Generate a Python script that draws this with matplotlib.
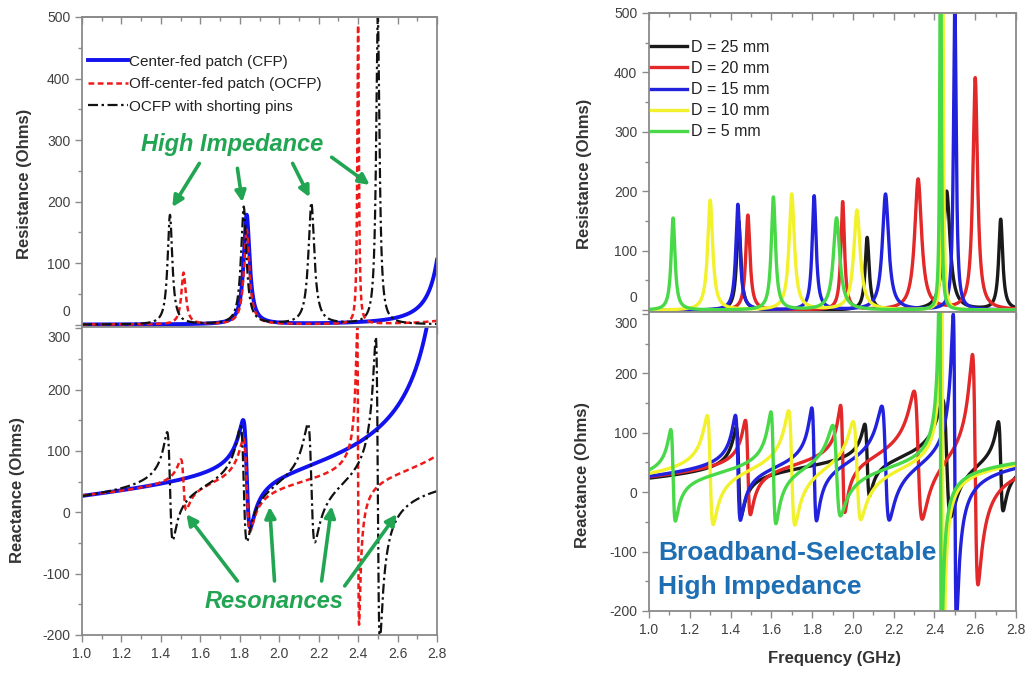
import numpy as np
import matplotlib
matplotlib.use("Agg")
import matplotlib.pyplot as plt
from matplotlib.ticker import MultipleLocator
from matplotlib.transforms import ScaledTranslation

plt.rcParams['font.family'] = ['Liberation Sans', 'DejaVu Sans']
plt.rcParams['axes.unicode_minus'] = False

# ---------------- data ----------------
# Each series: resonance frequencies (GHz), peak resistances (Ohm), quality factors,
# plus background reactance at 1.0 GHz and its slope (Ohm/GHz).
# Left figure: patch antennas
cfp_f0 = [1.835, 2.90]
cfp_R = [178, 1400]
cfp_Q = [50, 50]
cfp_x0, cfp_xs = 13, 24

ocfp_f0 = [1.515, 1.835, 2.40, 3.10]
ocfp_R = [84, 154, 486, 400]
ocfp_Q = [55, 55, 250, 40]
ocfp_x0, ocfp_xs = 19, 20

pins_f0 = [1.446, 1.82, 2.163, 2.50]
pins_R = [178, 191, 197, 498]
pins_Q = [50, 55, 60, 120]
pins_x0, pins_xs = 15, 28

left_labels = ["Center-fed patch (CFP)", "Off-center-fed patch (OCFP)",
               "OCFP with shorting pins"]

# Right figure: shorting-pin distance D
d25_f0 = [1.44, 2.07, 2.46, 2.725]
d25_R = [150, 122, 200, 152]
d25_Q = [58, 88, 62, 116]

d20_f0 = [1.485, 1.95, 2.32, 2.60]
d20_R = [160, 182, 220, 390]
d20_Q = [60, 92, 57, 95]

d15_f0 = [1.436, 1.81, 2.16, 2.50]
d15_R = [178, 192, 195, 520]
d15_Q = [58, 77, 58, 160]

d10_f0 = [1.30, 1.70, 2.02, 2.44]
d10_R = [185, 195, 168, 700]
d10_Q = [44, 54, 53, 280]

d5_f0 = [1.118, 1.61, 1.92, 2.43]
d5_R = [155, 190, 155, 700]
d5_Q = [49, 65, 50, 280]

right_x0 = [17, 17, 17, 17, 17]
right_xs = [27, 27, 27, 27, 27]
right_labels = ["D = 25 mm", "D = 20 mm", "D = 15 mm", "D = 10 mm", "D = 5 mm"]

freq = np.linspace(1.0, 2.8, 4000)


def impedance(f, f0s, Rs, Qs, x0, xs):
    z = 1j * (x0 + xs * (f - 1.0))
    for f0, R, Q in zip(f0s, Rs, Qs):
        z = z + R / (1 + 1j * Q * (f / f0 - f0 / f))
    return z.real, z.imag


# ---------------- figure ----------------
W, H = 1029, 674
fig = plt.figure(figsize=(W / 100, H / 100), dpi=100)


def px_axes(x0, x1, y0, y1):
    return fig.add_axes([x0 / W, 1 - y1 / H, (x1 - x0) / W, (y1 - y0) / H])


axL1 = px_axes(82, 437, 17, 327)
axL2 = px_axes(82, 437, 327, 635)
axR1 = px_axes(649, 1016, 13, 312)
axR2 = px_axes(649, 1016, 312, 611)

spine_col = '#8a8a8a'
for ax in (axL1, axL2, axR1, axR2):
    ax.set_xlim(1.0, 2.8)
    ax.xaxis.set_major_locator(MultipleLocator(0.2))
    ax.xaxis.set_minor_locator(MultipleLocator(0.1))
    ax.yaxis.set_minor_locator(MultipleLocator(50))
    for s in ax.spines.values():
        s.set_color(spine_col)
        s.set_linewidth(1.3)
    ax.tick_params(which='both', color=spine_col, labelsize=10,
                   labelcolor='#404040', width=1.0, direction='out')
    ax.tick_params(which='major', length=5)
    ax.tick_params(which='minor', length=3)

for ax in (axL1, axR1):
    ax.set_yticks([0, 100, 200, 300, 400, 500])
    ax.tick_params(axis='x', labelbottom=False)
    sec = ax.secondary_xaxis('top')
    sec.xaxis.set_major_locator(MultipleLocator(0.2))
    sec.xaxis.set_minor_locator(MultipleLocator(0.1))
    sec.tick_params(which='both', direction='in', labeltop=False, color=spine_col, width=1.0)
    sec.tick_params(which='major', length=5)
    sec.tick_params(which='minor', length=3)
    sec.spines['top'].set_color(spine_col)
    sec.spines['top'].set_linewidth(1.3)
for ax in (axL2, axR2):
    ax.set_yticks([-200, -100, 0, 100, 200, 300])

axL1.set_ylim(-4, 500)
axL2.set_ylim(-200, 302)
axR1.set_ylim(-3, 500)
axR2.set_ylim(-200, 303)

# shift the "0" and "300" labels apart like the original
for ax in (axL1, axR1):
    lab = ax.yaxis.get_major_ticks()[0].label1
    lab.set_transform(lab.get_transform() + ScaledTranslation(0, 10 / 72, fig.dpi_scale_trans))
for ax in (axL2, axR2):
    lab = ax.yaxis.get_major_ticks()[-1].label1
    lab.set_transform(lab.get_transform() + ScaledTranslation(0, -6 / 72, fig.dpi_scale_trans))

# ---- left curves ----
left_specs = [
    (cfp_f0, cfp_R, cfp_Q, cfp_x0, cfp_xs, dict(color='#1212ee', lw=2.8, ls='-')),
    (ocfp_f0, ocfp_R, ocfp_Q, ocfp_x0, ocfp_xs, dict(color='#ee1a1a', lw=1.8, ls=(0, (2.3, 1.4)))),
    (pins_f0, pins_R, pins_Q, pins_x0, pins_xs, dict(color='#111111', lw=1.6, ls=(0, (4.5, 1.6, 1.1, 1.6)))),
]
for (f0s, Rs, Qs, x0, xs, st), lab in zip(left_specs, left_labels):
    r, x = impedance(freq, f0s, Rs, Qs, x0, xs)
    axL1.plot(freq, r, label=lab, **st)
    axL2.plot(freq, x, **st)

leg = axL1.legend(loc='upper left', bbox_to_anchor=(0.0, 0.898), frameon=False,
                  fontsize=11, handlelength=2.6, handletextpad=0.1,
                  labelspacing=0.55, borderaxespad=0.2, borderpad=0.2)
for t in leg.get_texts():
    t.set_color('#222222')

# ---- right curves ----
right_cols = ['#1a1a1a', '#e22828', '#2222dd', '#f2f22c', '#48d848']
right_data = [(d25_f0, d25_R, d25_Q), (d20_f0, d20_R, d20_Q), (d15_f0, d15_R, d15_Q),
              (d10_f0, d10_R, d10_Q), (d5_f0, d5_R, d5_Q)]
for (f0s, Rs, Qs), x0, xs, col, lab in zip(right_data, right_x0, right_xs, right_cols, right_labels):
    r, x = impedance(freq, f0s, Rs, Qs, x0, xs)
    axR1.plot(freq, r, color=col, lw=2.4, label=lab)
    axR2.plot(freq, x, color=col, lw=2.4)

legR = axR1.legend(loc='upper left', bbox_to_anchor=(0.0, 0.915), frameon=False,
                   fontsize=11.5, handlelength=2.3, handletextpad=0.2,
                   labelspacing=0.38, borderaxespad=0.0, borderpad=0.1)
for t in legR.get_texts():
    t.set_color('#222222')

# ---- axis labels ----
lab_kw = dict(fontsize=12, fontweight='bold', color='#333333', rotation=90,
              ha='center', va='center')
fig.text(25 / W, 1 - 184 / H, 'Resistance (Ohms)', **lab_kw)
fig.text(18 / W, 1 - 490 / H, 'Reactance (Ohms)', **lab_kw)
fig.text(585 / W, 1 - 174 / H, 'Resistance (Ohms)', **lab_kw)
fig.text(583 / W, 1 - 475 / H, 'Reactance (Ohms)', **lab_kw)
fig.text(834 / W, 1 - 658 / H, 'Frequency (GHz)', fontsize=12, fontweight='bold',
         color='#333333', ha='center', va='center')

# ---- annotations ----
green = '#22a552'
arr = dict(arrowstyle='-|>', color=green, lw=2.6, mutation_scale=16, shrinkA=0, shrinkB=0)
axL1.text(1.763, 292, 'High Impedance', color=green, fontsize=17, fontweight='bold',
          fontstyle='italic', ha='center', va='center')
for (x1, y1), (x2, y2) in [((1.595, 262), (1.458, 191)), ((1.788, 254), (1.813, 199)),
                           ((2.068, 262), (2.154, 207)), ((2.266, 272), (2.459, 227))]:
    axL1.annotate('', xy=(x2, y2), xytext=(x1, y1), arrowprops=arr)

axL2.text(1.976, -146, 'Resonances', color=green, fontsize=17, fontweight='bold',
          fontstyle='italic', ha='center', va='center')
for (x1, y1), (x2, y2) in [((1.788, -112), (1.529, -3)), ((1.976, -112), (1.951, 9)),
                           ((2.215, -112), (2.266, 10)), ((2.332, -120), (2.596, -3))]:
    axL2.annotate('', xy=(x2, y2), xytext=(x1, y1), arrowprops=arr)

blue_txt = '#1e6eb4'
axR2.text(1.044, -103, 'Broadband-Selectable', color=blue_txt, fontsize=19,
          fontweight='bold', ha='left', va='center')
axR2.text(1.044, -160, 'High Impedance', color=blue_txt, fontsize=19,
          fontweight='bold', ha='left', va='center')

fig.savefig('out.png', dpi=100, facecolor='white')
